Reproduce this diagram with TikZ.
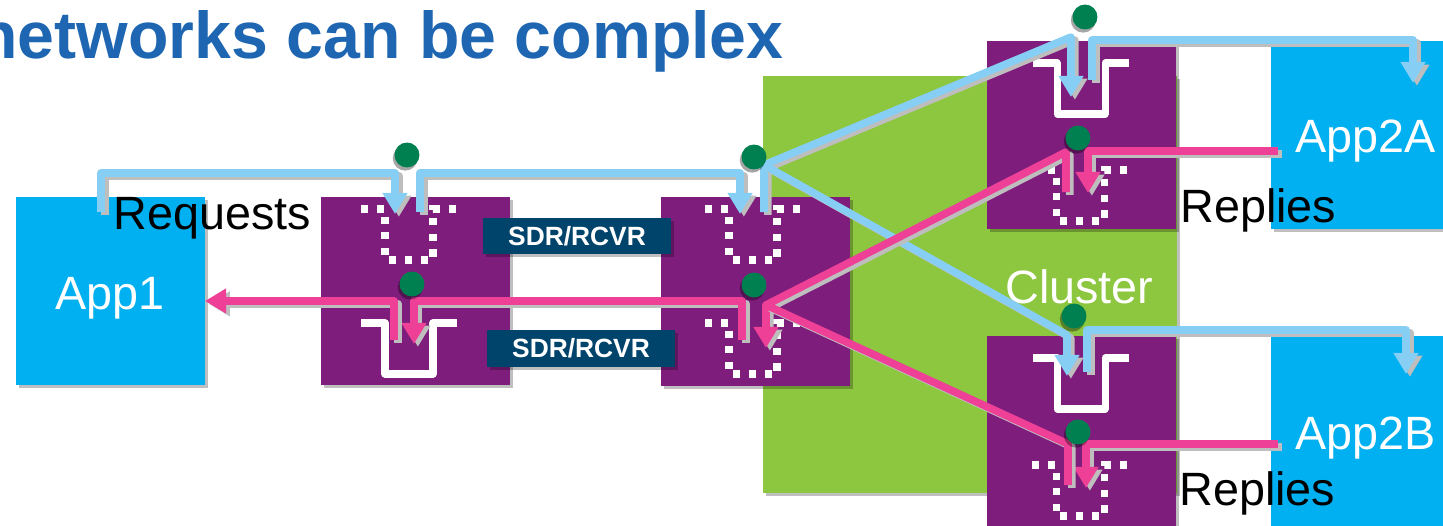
\documentclass[tikz,border=0pt]{standalone}
\usepackage{fontspec}
\setmainfont{Liberation Sans}
\usetikzlibrary{arrows.meta,shadows}

\definecolor{titleblue}{RGB}{30,102,178}
\definecolor{appblue}{RGB}{0,176,240}
\definecolor{qmgrpurple}{RGB}{127,29,125}
\definecolor{clustergreen}{RGB}{141,198,63}
\definecolor{chlblue}{RGB}{0,68,107}
\definecolor{reqblue}{RGB}{135,206,245}
\definecolor{reppink}{RGB}{237,64,150}
\definecolor{dotgreen}{RGB}{0,128,80}
\definecolor{lineshadow}{RGB}{190,190,190}

\newcommand{\qshape}[3]{\draw[#1] (#2-48,#3) -- (#2-24,#3) -- (#2-24,#3+51) -- (#2+24,#3+51) -- (#2+24,#3) -- (#2+48,#3);}
\newcommand{\flow}[2]{\draw[#1,castshadow] #2; \draw[#1] #2;}

\begin{document}
\begin{tikzpicture}[x=0.02cm, y=-0.02cm,
    req/.style={draw=reqblue, line width=4.3pt, line join=round},
    rep/.style={draw=reppink, line width=4.3pt, line join=round},
    headed/.style={-{Triangle[length=12pt,width=13.5pt]}},
    castshadow/.style={draw=lineshadow, transform canvas={shift={(2.2pt,-1.6pt)}}},
    boxshadow/.style={drop shadow={shadow xshift=1.5pt, shadow yshift=-1.5pt, opacity=0.25, fill=black}},
    sq/.style={draw=white, line width=4pt, line join=round},
    dq/.style={draw=white, line width=4pt, dash pattern=on 4pt off 5pt},
    chdot/.style={circle, fill=dotgreen, minimum size=14.2pt, inner sep=0pt,
        drop shadow={shadow xshift=-1pt, shadow yshift=-1.8pt, opacity=0.35, fill=black}},
    lbl/.style={inner sep=0pt, font=\fontsize{26.6}{30}\selectfont},
    chtxt/.style={text=white, inner sep=0pt, font=\bfseries\fontsize{15}{18}\selectfont}]
\useasboundingbox (0,0) rectangle (1443,525);
\clip (0,0) rectangle (1443,525);

\node[anchor=base east, inner sep=0pt, text=titleblue, font=\bfseries\fontsize{37.7}{42}\selectfont] (ttl) at (784,58) {networks can be complex};

\fill[clustergreen, boxshadow] (763,76) rectangle (1177,493);
\fill[appblue, boxshadow] (16,197) rectangle (205,385);
\fill[qmgrpurple, boxshadow] (321,197) rectangle (510,385);
\fill[qmgrpurple, boxshadow] (661,197) rectangle (850,386);
\fill[qmgrpurple, boxshadow] (987,41) rectangle (1176,229);
\fill[qmgrpurple, boxshadow] (987,336) rectangle (1176,540);
\fill[appblue, boxshadow] (1271,41) rectangle (1460,229);
\fill[appblue, boxshadow] (1271,336) rectangle (1460,540);
\fill[chlblue, boxshadow] (483,218) rectangle (671,254);
\fill[chlblue, boxshadow] (487,330) rectangle (675,367);

\node[chtxt] (ch1) at (577,236) {SDR/RCVR};
\node[chtxt] (ch2) at (581,348.5) {SDR/RCVR};
\node[lbl, anchor=base, text=white] (app1) at (110,309) {App1};
\node[lbl, anchor=base west, text=white] (app2a) at (1295,152) {App2A};
\node[lbl, anchor=base west, text=white] (app2b) at (1295,449) {App2B};
\node[lbl, anchor=base west, text=white] (clus) at (1005,303) {Cluster};
\node[lbl, anchor=base west] (reqs) at (113,229) {Requests};
\node[lbl, anchor=base west] (rep1) at (1180,222) {Replies};
\node[lbl, anchor=base west] (rep2) at (1179,505) {Replies};

\qshape{dq}{409}{209}
\qshape{sq}{409}{323}
\qshape{dq}{753}{209}
\qshape{dq}{753}{323}
\qshape{sq}{1081}{63}
\qshape{dq}{1080}{170}
\qshape{sq}{1081}{358}
\qshape{dq}{1080}{465}

\coordinate (a1 out) at (101,212);
\coordinate (b1 in) at (395,214);
\coordinate (b1 out) at (420,212);
\coordinate (b2 in) at (740,214);
\coordinate (b2 out) at (764,212);
\coordinate (fork) at (764,165);
\coordinate (b3 in) at (1071,97);
\coordinate (b3 out) at (1092,80);
\coordinate (a2a in) at (1413,83);
\coordinate (b4 in) at (1067,376);
\coordinate (b4 out) at (1087,372);
\coordinate (a2b in) at (1406,374);

\coordinate (a2a out) at (1278,151);
\coordinate (b3 rin) at (1088,193);
\coordinate (b3 rout) at (1066,192);
\coordinate (join) at (766,305);
\coordinate (b2 rin) at (766,348);
\coordinate (a2b out) at (1278,444);
\coordinate (b4 rin) at (1086,488);
\coordinate (b4 rout) at (1068,485);
\coordinate (b2 rout) at (742,340);
\coordinate (b1 rin) at (414,344);
\coordinate (b1 rout) at (394,340);
\coordinate (a1 in) at (205,301);

\flow{req,headed}{(a1 out) -- ++(0,-39) -| (b1 in)}
\flow{req,headed}{(b1 out) -- ++(0,-39) -| (b2 in)}
\flow{req,headed}{(b2 out) -- (fork) -- ++(307,-128) -- (b3 in)}
\flow{req,headed}{(b3 out) -- ++(0,-40) -| (a2a in)}
\flow{req,headed}{(fork) -- ++(303,170) -- (b4 in)}
\flow{req,headed}{(b4 out) -- ++(0,-42) -| (a2b in)}

\flow{rep,headed}{(a2a out) -| (b3 rin)}
\flow{rep,headed}{(b3 rout) -- ++(0,-40) -- (join) -- (b2 rin)}
\flow{rep,headed}{(a2b out) -| (b4 rin)}
\flow{rep}{(b4 rout) -- ++(0,-41) -- (join)}
\flow{rep,headed}{(b2 rout) -- ++(0,-39) -| (b1 rin)}
\flow{rep,headed}{(b1 rout) |- (a1 in)}

\node[chdot] (d1a) at (407,155) {};
\node[chdot] (d1b) at (412,284) {};
\node[chdot] (d2a) at (754,157) {};
\node[chdot] (d2b) at (754,285) {};
\node[chdot] (d3a) at (1085,17) {};
\node[chdot] (d3b) at (1078,138) {};
\node[chdot] (d4a) at (1074,316) {};
\node[chdot] (d4b) at (1078,432) {};
\end{tikzpicture}
\end{document}
